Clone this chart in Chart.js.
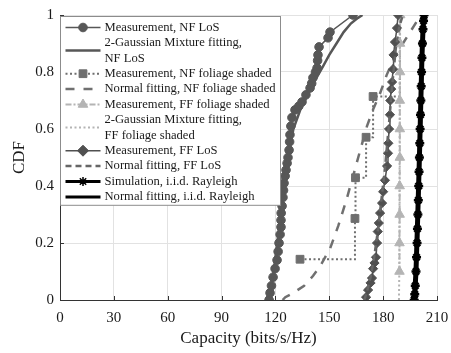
<!DOCTYPE html>
<html>
<head>
<meta charset="utf-8">
<script src="https://cdn.jsdelivr.net/npm/chart.js@4.4.1/dist/chart.umd.min.js"></script>
<style>
  html, body { margin: 0; padding: 0; background: #fff; }
</style>
</head>
<body>
<canvas id="cdfChart" width="451" height="353"></canvas>
<script>
const xTicks = [0, 30, 60, 90, 120, 150, 180, 210];
const yTicks = [0, 0.2, 0.4, 0.6, 0.8, 1];

// Measurement, NF LoS
const nfLosCap = [116.5, 117, 117.8, 118.7, 119.8, 120.9, 121.5, 122, 122.6, 123.1, 123.1, 123.2, 123.7, 124.2,
  124.5, 124.8, 125.4, 125.9, 126.5, 127, 127.6, 127.9, 128.1, 128.6, 129.2, 130.9, 133, 134.8, 137, 139.3,
  140.2, 140.9, 142.3, 143.2, 143.5, 143.7, 144.3, 149.3, 150.4, 163.2];
const nfLosCdf = [0, 0.025, 0.05, 0.08, 0.11, 0.14, 0.17, 0.2, 0.23, 0.256, 0.28, 0.305, 0.33, 0.36,
  0.385, 0.41, 0.435, 0.456, 0.48, 0.5, 0.526, 0.555, 0.58, 0.61, 0.64, 0.667, 0.68, 0.695, 0.72, 0.744,
  0.76, 0.78, 0.8, 0.814, 0.84, 0.86, 0.888, 0.92, 0.94, 1];
// 2-Gaussian mixture fitting, NF LoS
const nfLosFitCap = [114.5, 117, 119, 121, 123, 125, 127, 130, 134, 136.5, 142, 146.5, 150, 154, 158, 162, 166, 168.5];
const nfLosFitCdf = [0, 0.03, 0.1, 0.2, 0.3, 0.4, 0.5, 0.6, 0.67, 0.7, 0.77, 0.82, 0.86, 0.9, 0.94, 0.97, 0.99, 1];
// Measurement, NF foliage shaded
const nfFolCap = [133.7, 164.3, 164.6, 170.5, 174.4, 189.3, 189.3];
const nfFolCdf = [0.143, 0.286, 0.429, 0.571, 0.714, 0.857, 1];
// Normal fitting, NF foliage shaded
const nfFolFitCap = [124, 125.5, 130, 136, 141, 145, 150.4, 155, 159.5, 163.5, 167, 171, 174.5, 178, 182, 187, 193.5, 198.5, 203];
const nfFolFitCdf = [0, 0.01, 0.025, 0.05, 0.085, 0.12, 0.18, 0.26, 0.35, 0.44, 0.52, 0.61, 0.67, 0.72, 0.79, 0.86, 0.925, 0.975, 1];
// Measurement, FF foliage shaded
const ffFolCap = [189.1, 189.1, 189.2, 189.2, 189.3, 189.3, 189.3, 189.4, 189.4, 189.5];
const ffFolCdf = [0.1, 0.2, 0.3, 0.4, 0.5, 0.6, 0.7, 0.8, 0.9, 1];
// 2-Gaussian mixture fitting, FF foliage shaded
const ffFolFitCap = [188.8, 189, 189.1, 189.2, 189.3, 189.5];
const ffFolFitCdf = [0, 0.1, 0.3, 0.6, 0.9, 1];
// Measurement, FF LoS
const ffLosCap = [170.5, 171.6, 173, 173.8, 174.4, 175.2, 176, 176.6, 177, 177.6, 178.3, 179.4, 180, 181, 182.2,
  182.7, 182.9, 183.3, 183.8, 184, 184.5, 185, 185.5, 185.8, 186.6, 187.7, 188.3];
const ffLosCdf = [0.01, 0.035, 0.06, 0.077, 0.11, 0.13, 0.15, 0.2, 0.24, 0.27, 0.305, 0.34, 0.38, 0.42, 0.47,
  0.515, 0.55, 0.6, 0.65, 0.7, 0.74, 0.765, 0.81, 0.86, 0.905, 0.954, 1];
// Normal fitting, FF LoS
const ffLosFitCap = [169.5, 171, 173, 175, 177, 179, 181, 183, 185, 187, 189, 191];
const ffLosFitCdf = [0, 0.03, 0.08, 0.15, 0.24, 0.35, 0.46, 0.6, 0.75, 0.88, 0.96, 1];
// Simulation, i.i.d. Rayleigh
const raySimCap = [197.3, 197.6, 197.9, 198.3, 198.6, 198.9, 199.1, 199.35, 199.6, 199.8, 200, 200.2, 200.4,
  200.6, 200.8, 201, 201.2, 201.4, 201.6, 201.9, 202.2, 202.5, 202.8];
const raySimCdf = [0, 0.02, 0.05, 0.1, 0.15, 0.2, 0.25, 0.3, 0.35, 0.4, 0.45, 0.5, 0.55,
  0.6, 0.65, 0.7, 0.75, 0.8, 0.85, 0.9, 0.95, 0.98, 1];
// Normal fitting, i.i.d. Rayleigh
const rayFitCap = [197.4, 198.3, 199.3, 200.2, 201, 201.6, 202.2, 202.8];
const rayFitCdf = [0, 0.1, 0.3, 0.5, 0.7, 0.85, 0.95, 1];

const serif = '"Liberation Serif", "Times New Roman", serif';

function pts(xs, ys) {
  return xs.map((x, i) => ({ x: x, y: ys[i] }));
}

function series(label, xs, ys, style) {
  return Object.assign({
    label: label,
    data: pts(xs, ys),
    showLine: true,
    fill: false,
    tension: 0,
    pointRadius: 0,
    borderWidth: 2,
    pointBorderWidth: 1
  }, style);
}

const datasets = [
  series('Measurement, NF LoS', nfLosCap, nfLosCdf, {
    borderColor: '#575757', backgroundColor: '#575757', borderWidth: 1.5,
    pointStyle: 'circle', pointRadius: 4.3, legendRadius: 4.3
  }),
  series(['2-Gaussian Mixture fitting,', 'NF LoS'], nfLosFitCap, nfLosFitCdf, {
    borderColor: '#575757', borderWidth: 2.5
  }),
  series('Measurement, NF foliage shaded', nfFolCap, nfFolCdf, {
    borderColor: '#6e6e6e', backgroundColor: '#6e6e6e', borderDash: [2, 2.5],
    pointStyle: 'rect', legendRadius: 5.5,
    pointRadius: ctx => (ctx.dataIndex < 5 ? 5.5 : 0),
    stepped: true
  }),
  series('Normal fitting, NF foliage shaded', nfFolFitCap, nfFolFitCdf, {
    borderColor: '#707070', borderWidth: 2.5, borderDash: [9, 9]
  }),
  series('Measurement, FF foliage shaded', ffFolCap, ffFolCdf, {
    borderColor: '#b4b4b4', backgroundColor: '#b4b4b4', borderDash: [6, 2, 2, 2],
    pointStyle: 'triangle', pointRadius: 5.5, legendRadius: 5.5
  }),
  series(['2-Gaussian Mixture fitting,', 'FF foliage shaded'], ffFolFitCap, ffFolFitCdf, {
    borderColor: '#b4b4b4', borderDash: [2, 2.5]
  }),
  series('Measurement, FF LoS', ffLosCap, ffLosCdf, {
    borderColor: '#505050', backgroundColor: '#505050', borderWidth: 1.5,
    pointStyle: 'rectRot', pointRadius: 4.6, legendRadius: 5.5
  }),
  series('Normal fitting, FF LoS', ffLosFitCap, ffLosFitCdf, {
    borderColor: '#666666', borderWidth: 2.5, borderDash: [6, 4]
  }),
  series('Simulation, i.i.d. Rayleigh', raySimCap, raySimCdf, {
    borderColor: '#000', backgroundColor: '#000', borderWidth: 3,
    pointStyle: 'star', pointRadius: 4.5, pointBorderWidth: 2.5, legendRadius: 4.5, legendBorder: 1.5
  }),
  series('Normal fitting, i.i.d. Rayleigh', rayFitCap, rayFitCdf, {
    borderColor: '#000', borderWidth: 5
  })
];
// later series on top, as in the original plot
datasets.forEach((d, i) => { d.order = datasets.length - i; });

const plotDecor = {
  id: 'plotDecor',
  afterDraw(chart) {
    const ctx = chart.ctx;
    const area = chart.chartArea;
    const xs = chart.scales.x, ys = chart.scales.y;
    ctx.save();

    // inward tick marks
    ctx.strokeStyle = '#333';
    ctx.lineWidth = 1;
    ctx.beginPath();
    xTicks.forEach(v => {
      const px = Math.round(xs.getPixelForValue(v)) + 0.5;
      ctx.moveTo(px, area.bottom);
      ctx.lineTo(px, area.bottom - 4);
    });
    yTicks.forEach(v => {
      const py = Math.round(ys.getPixelForValue(v)) + 0.5;
      ctx.moveTo(area.left, py);
      ctx.lineTo(area.left + 4, py);
    });
    ctx.stroke();

    // legend box, top left inside the axes
    const rowH = 15.4;
    const rows = chart.data.datasets.reduce((n, d) => n + (Array.isArray(d.label) ? d.label.length : 1), 0);
    const bx = area.left + 0.5, by = area.top + 1.5;
    const bw = 220, bh = rows * rowH + 4;
    ctx.fillStyle = '#fff';
    ctx.fillRect(bx, by, bw, bh);
    ctx.strokeStyle = '#8c8c8c';
    ctx.strokeRect(bx, by, bw, bh);

    ctx.font = '12.6px ' + serif;
    ctx.textBaseline = 'middle';
    let y = by + 11;
    chart.data.datasets.forEach(d => {
      const lines = Array.isArray(d.label) ? d.label : [d.label];
      const cy = y + (lines.length - 1) * rowH / 2;
      ctx.save();
      ctx.strokeStyle = d.borderColor;
      ctx.lineWidth = Math.min(d.borderWidth, 3);
      ctx.setLineDash(d.borderDash || []);
      ctx.beginPath();
      ctx.moveTo(bx + 5, cy);
      ctx.lineTo(bx + 40, cy);
      ctx.stroke();
      ctx.setLineDash([]);
      if (d.legendRadius) {
        const bwid = d.legendBorder || d.pointBorderWidth;
        ctx.fillStyle = d.backgroundColor;
        ctx.strokeStyle = d.borderColor;
        ctx.lineWidth = bwid;
        Chart.helpers.drawPoint(ctx, {
          pointStyle: d.pointStyle, radius: d.legendRadius, borderWidth: bwid, rotation: 0
        }, bx + 22.5, cy);
      }
      ctx.restore();
      ctx.fillStyle = '#1a1a1a';
      lines.forEach((t, i) => ctx.fillText(t, bx + 44, y + i * rowH));
      y += lines.length * rowH;
    });
    ctx.restore();
  }
};

new Chart(document.getElementById('cdfChart'), {
  type: 'scatter',
  data: { datasets: datasets },
  options: {
    responsive: false,
    animation: false,
    devicePixelRatio: 1,
    layout: { padding: { top: 15, right: 14, left: 0, bottom: 0 } },
    plugins: { legend: { display: false }, tooltip: { enabled: false } },
    scales: {
      x: {
        type: 'linear', min: 0, max: 210,
        afterBuildTicks: s => { s.ticks = xTicks.map(v => ({ value: v })); },
        afterFit: s => { s.height = 53; s.paddingLeft = 0; s.paddingRight = 0; },
        ticks: { color: '#1a1a1a', font: { family: serif, size: 15 }, padding: 9, maxRotation: 0 },
        grid: { color: '#e2e2e2', drawTicks: false },
        border: { color: '#333', width: 1 },
        title: {
          display: true, text: 'Capacity (bits/s/Hz)', color: '#1a1a1a',
          font: { family: serif, size: 17 }, padding: { top: 0, bottom: 4 }
        }
      },
      y: {
        type: 'linear', min: 0, max: 1,
        afterBuildTicks: s => { s.ticks = yTicks.map(v => ({ value: v })); },
        afterFit: s => { s.width = 60; },
        ticks: { color: '#1a1a1a', font: { family: serif, size: 15 }, padding: 6, callback: v => String(+v.toFixed(1)) },
        grid: { color: '#e2e2e2', drawTicks: false },
        border: { color: '#333', width: 1 },
        title: {
          display: true, text: 'CDF', color: '#1a1a1a',
          font: { family: serif, size: 17 }, padding: { top: 9, bottom: 0 }
        }
      }
    }
  },
  plugins: [plotDecor]
});
</script>
</body>
</html>
